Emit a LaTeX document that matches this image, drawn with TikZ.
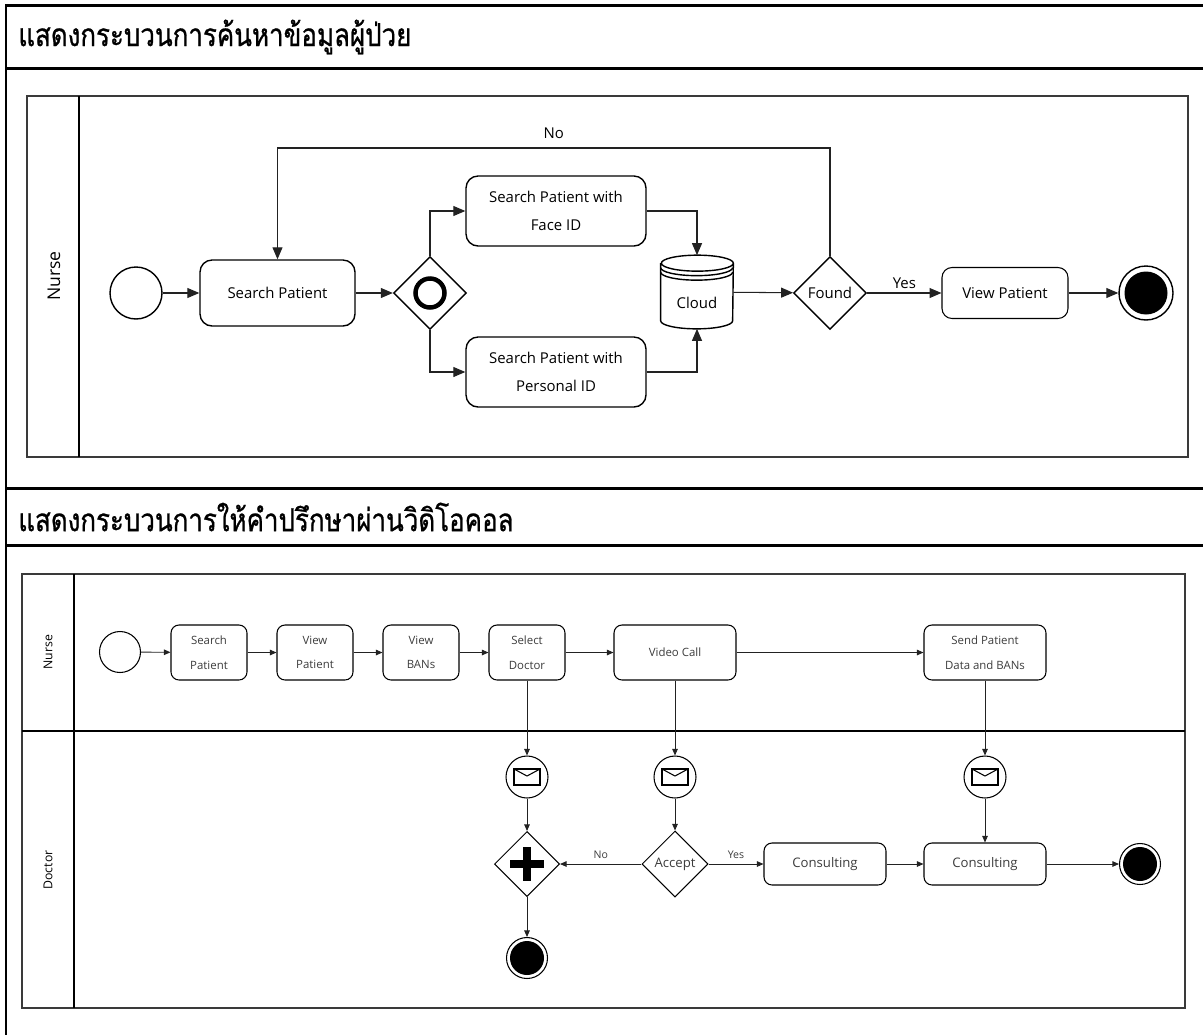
\documentclass[tikz,border=0pt]{standalone}
\usepackage{fontspec}
\setmainfont{Open Sans}
\newfontfamily\thaifont[Script=Thai,FakeStretch=0.82,FakeBold=0.8]{Loma}
\usepackage{tikz}
\usetikzlibrary{arrows.meta,shapes.geometric}
\definecolor{frameBlack}{HTML}{000000}
\definecolor{poolGrey}{HTML}{3A3A3A}
\definecolor{flowDark}{HTML}{222222}
\definecolor{labelGrey}{HTML}{3C3C3C}
\tikzset{
  task/.style={rectangle, rounded corners=0.24cm, draw=frameBlack, line width=0.8pt, align=center, font=\fontsize{8.5}{16}\selectfont, inner sep=2pt},
  minitask/.style={rectangle, rounded corners=0.16cm, draw=frameBlack, line width=0.6pt, align=center, text=labelGrey, font=\fontsize{6.5}{14}\selectfont, minimum height=1.1cm, inner sep=1pt},
  startev/.style={circle, draw=frameBlack, line width=0.8pt, minimum size=#1, inner sep=0pt},
  endev/.style 2 args={circle, draw=frameBlack, line width=0.8pt, minimum size=#1, inner sep=0pt,
    path picture={\fill[frameBlack] (path picture bounding box.center) circle (#2);}},
  msgev/.style={circle, draw=frameBlack, line width=0.6pt, minimum size=0.84cm, inner sep=0pt,
    path picture={\draw[line width=0.6pt] ([shift={(-0.26cm,-0.16cm)}]path picture bounding box.center) rectangle ([shift={(0.26cm,0.16cm)}]path picture bounding box.center);
      \draw[line width=0.6pt] ([shift={(-0.26cm,0.16cm)}]path picture bounding box.center) -- ([shift={(0cm,0.02cm)}]path picture bounding box.center) -- ([shift={(0.26cm,0.16cm)}]path picture bounding box.center);}},
  gateway/.style={diamond, aspect=1, draw=frameBlack, line width=0.8pt, minimum size=#1, inner sep=0pt, font=\fontsize{8.5}{11}\selectfont},
  orgate/.style={gateway=1.46cm, path picture={\draw[line width=0.09cm] (path picture bounding box.center) circle (0.29cm);}},
  andgate/.style={gateway=1.3cm, line width=0.6pt, path picture={\draw[line width=0.17cm] ([yshift=0.34cm]path picture bounding box.center) -- ([yshift=-0.34cm]path picture bounding box.center);
      \draw[line width=0.17cm] ([xshift=-0.34cm]path picture bounding box.center) -- ([xshift=0.34cm]path picture bounding box.center);}},
  flow/.style={-{Triangle[length=0.24cm,width=0.2cm]}, line width=0.6pt, draw=flowDark},
  miniflow/.style={-{Triangle[length=0.13cm,width=0.11cm]}, line width=0.5pt, draw=flowDark},
  flowlabel/.style={font=\fontsize{8.5}{11}\selectfont, inner sep=2pt},
  miniflowlabel/.style={font=\fontsize{6}{8}\selectfont, text=labelGrey, inner sep=3pt},
  lanelabel/.style={rotate=90, font=\fontsize{#1}{12}\selectfont},
  titletext/.style={anchor=west, font=\thaifont\fontsize{18}{22}\selectfont, inner sep=0pt},
  frameline/.style={line width=0.06cm, draw=frameBlack},
}

\begin{document}
\begin{tikzpicture}[x=0.02cm,y=-0.02cm]
  \useasboundingbox (0,0) rectangle (1203,1035);
  % --- frame and titles ---
  \draw[frameline] (1203,5) -- (6,5) -- (6,1035);
  \draw[frameline] (6,68) -- (1203,68);
  \draw[frameline] (6,488) -- (1203,488);
  \draw[frameline] (6,545) -- (1203,545);
  \node[titletext] (title1) at (18,37) {แสดงกระบวนการค้นหาข้อมูลผู้ป่วย};
  \node[titletext] (title2) at (18,517) {แสดงกระบวนการให้คำปรึกษาผ่านวิดิโอคอล};

  % --- pool 1 ---
  \draw[draw=poolGrey, line width=0.8pt] (27,96) rectangle (1188,457);
  \draw[line width=0.8pt] (79,96) -- (79,457);
  \node[lanelabel=10] (lane1) at (54,276) {Nurse};

  \node[startev=1.04cm] (start1) at (136,293) {};
  \node[task, minimum width=3.1cm, minimum height=1.32cm] (search1) at (277.5,293) {Search Patient};
  \node[orgate] (gw1) at (430,293) {};
  \node[task, minimum width=3.6cm, minimum height=1.4cm] (face) at (556,211) {Search Patient with\\Face ID};
  \node[task, minimum width=3.6cm, minimum height=1.4cm] (personal) at (556,372) {Search Patient with\\Personal ID};
  \node[rectangle, minimum width=1.44cm, minimum height=1.46cm, inner sep=0pt,
    label={[flowlabel, yshift=-0.22cm]center:Cloud}] (cloud) at (697,292) {};
  \draw[line width=0.8pt] ([yshift=-0.16cm]cloud.north west) -- ([yshift=0.16cm]cloud.south west)
    arc[start angle=180, end angle=360, x radius=0.72cm, y radius=0.16cm]
    -- ([yshift=-0.16cm]cloud.north east)
    arc[start angle=0, end angle=180, x radius=0.72cm, y radius=0.16cm]
    arc[start angle=180, end angle=360, x radius=0.72cm, y radius=0.16cm];
  \draw[line width=0.8pt] ([yshift=-0.25cm]cloud.north west) arc[start angle=180, end angle=360, x radius=0.72cm, y radius=0.16cm];
  \draw[line width=0.8pt] ([yshift=-0.34cm]cloud.north west) arc[start angle=180, end angle=360, x radius=0.72cm, y radius=0.16cm];
  \node[gateway=1.46cm] (found) at (830,293) {Found};
  \node[task, rounded corners=0.2cm, line width=0.6pt, minimum width=2.52cm, minimum height=1.02cm] (view1) at (1005,293) {View Patient};
  \node[endev={1.08cm}{0.43cm}] (end1) at (1146,293) {};
  \coordinate (loop) at (830,148);

  \draw[flow] (start1) -- (search1);
  \draw[flow] (search1) -- (gw1);
  \draw[flow] (gw1.north) |- (face.west);
  \draw[flow] (gw1.south) |- (personal.west);
  \draw[flow] (face.east) -| (cloud.north);
  \draw[flow] (personal.east) -| (cloud.south);
  \draw[flow] (cloud) -- (found);
  \draw[flow] (found) -- node[flowlabel, above] {Yes} (view1);
  \draw[flow] (view1) -- (end1);
  \draw[flow] (found.north) -- (loop) -| node[flowlabel, pos=0.25, above=3pt] {No} (search1.north);

  % --- pool 2 ---
  \draw[draw=poolGrey, line width=0.6pt] (22,574) rectangle (1185,1008);
  \draw[line width=0.6pt] (74,574) -- (74,1008);
  \draw[line width=0.6pt] (22,731) -- (1185,731);
  \node[lanelabel=7] (lane2) at (48,652) {Nurse};
  \node[lanelabel=7] (lane3) at (48,870) {Doctor};

  \node[startev=0.82cm, line width=0.6pt] (start2) at (120,652) {};
  \node[minitask, minimum width=1.52cm] (t1) at (209,652.5) {Search\\Patient};
  \node[minitask, minimum width=1.52cm] (t2) at (315,652.5) {View\\Patient};
  \node[minitask, minimum width=1.52cm] (t3) at (421,652.5) {View\\BANs};
  \node[minitask, minimum width=1.52cm] (t4) at (527,652.5) {Select\\Doctor};
  \node[minitask, minimum width=2.44cm] (vcall) at (675,652.5) {Video Call};
  \node[minitask, minimum width=2.44cm] (send) at (985,652.5) {Send Patient\\Data and BANs};
  \node[msgev] (msg1) at (527,777) {};
  \node[msgev] (msg2) at (675,777) {};
  \node[msgev] (msg3) at (985,777) {};
  \node[andgate] (pgw) at (527,864) {};
  \node[gateway=1.32cm, line width=0.6pt, text=labelGrey, font=\fontsize{7.5}{10}\selectfont] (accept) at (675,864) {Accept};
  \node[minitask, minimum width=2.44cm, minimum height=0.84cm, font=\fontsize{7.5}{10}\selectfont] (cons1) at (825,864) {Consulting};
  \node[minitask, minimum width=2.44cm, minimum height=0.84cm, font=\fontsize{7.5}{10}\selectfont] (cons2) at (985,864) {Consulting};
  \node[endev={0.82cm}{0.34cm}, line width=0.6pt] (end2) at (1140,864) {};
  \node[endev={0.82cm}{0.34cm}, line width=0.6pt] (end3) at (527,958) {};

  \draw[miniflow] (start2) -- (t1);
  \draw[miniflow] (t1) -- (t2);
  \draw[miniflow] (t2) -- (t3);
  \draw[miniflow] (t3) -- (t4);
  \draw[miniflow] (t4) -- (vcall);
  \draw[miniflow] (vcall) -- (send);
  \draw[miniflow] (t4) -- (msg1);
  \draw[miniflow] (vcall) -- (msg2);
  \draw[miniflow] (send) -- (msg3);
  \draw[miniflow] (msg1) -- (pgw);
  \draw[miniflow] (msg2) -- (accept);
  \draw[miniflow] (msg3) -- (cons2);
  \draw[miniflow] (accept) -- node[miniflowlabel, above] {No} (pgw);
  \draw[miniflow] (accept) -- node[miniflowlabel, above] {Yes} (cons1);
  \draw[miniflow] (cons1) -- (cons2);
  \draw[miniflow] (cons2) -- (end2);
  \draw[miniflow] (pgw) -- (end3);
\end{tikzpicture}
\end{document}
